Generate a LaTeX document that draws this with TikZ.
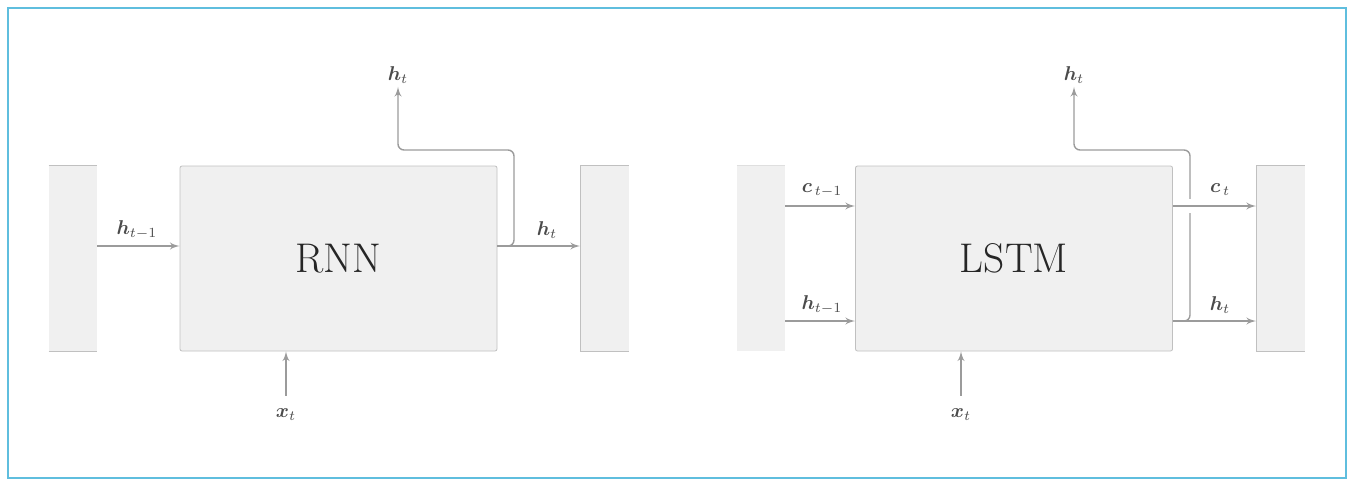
\documentclass[tikz,border=0pt]{standalone}
\usepackage{amsmath}
\usepackage{amssymb}
\usepackage{bm}
\usepackage{tikz}
\usetikzlibrary{arrows, shapes}

\definecolor{cellfill}{RGB}{240,240,240}
\definecolor{celledge}{RGB}{192,192,192}
\definecolor{wiregray}{RGB}{155,155,155}
\definecolor{labelgray}{RGB}{75,75,75}
\definecolor{framecyan}{RGB}{95,190,222}

\begin{document}
\begin{tikzpicture}[x=0.5pt, y=-0.5pt]
			\tikzset{
				cell/.style = {draw=celledge, fill=cellfill, rounded corners=1pt,
					minimum width=158.5pt, minimum height=92.5pt, inner sep=0pt,
					font=\huge, text=black!85},
				stub/.style = {fill=cellfill, minimum width=24pt, minimum height=92.5pt, inner sep=0pt},
				edge/.style = {draw=celledge, line width=0.6pt},
				wire/.style = {draw=wiregray, line width=0.7pt, ->, >=latex'},
				lbl/.style = {font=\normalsize, text=labelgray, inner sep=1.5pt}
			}
			% frame
			\useasboundingbox (0,0) rectangle (1352,487);
			\path[draw=framecyan, line width=1pt] (8,8) rectangle (1346,478);

			% ---- RNN ----
			\node[stub] (rnnin) at (73,258.5) {};
			\node[stub] (rnnout) at (604.5,258.5) {};
			\node[cell] (rnn) at (338.5,258.5) {RNN};
			\path[edge] (rnnin.north west) -- (rnnin.north east);
			\path[edge] (rnnin.south west) -- (rnnin.south east);
			\path[edge] (rnnout.north east) -- (rnnout.north west) --
				(rnnout.south west) -- (rnnout.south east);

			\node[lbl] (rnnhprev) at (137,230) {$\bm{h}_{t-1}$};
			\node[lbl] (rnnhnext) at (547,230) {$\bm{h}_t$};
			\node[lbl] (rnnhup) at (398,75) {$\bm{h}_t$};
			\node[lbl] (rnnx) at (286,415) {$\bm{x}_t$};

			\path[wire] ([yshift=6.25pt]rnnin.east) -- ([yshift=6.25pt]rnn.west);
			\path[wire] ([yshift=6.25pt]rnn.east) -- ([yshift=6.25pt]rnnout.west);
			\path[wire, rounded corners=3pt] ([yshift=6.25pt]rnn.east) -| (514,150) -| (rnnhup.south);
			\path[wire] ([yshift=5pt]rnnx.north) -- (rnnx.north |- rnn.south);

			% ---- LSTM ----
			\node[stub] (lstmin) at (761,258.5) {};
			\node[stub] (lstmout) at (1280.5,258.5) {};
			\node[cell] (lstm) at (1014,258.5) {LSTM};
			\path[draw=celledge!50, line width=0.6pt] (lstmin.north west) -- (lstmin.north east);
			\path[edge] (lstmout.north east) -- (lstmout.north west) --
				(lstmout.south west) -- (lstmout.south east);

			\node[lbl] (lstmcprev) at (822,190) {$\bm{c}_{\,t-1}$};
			\node[lbl] (lstmhprev) at (822,305) {$\bm{h}_{t-1}$};
			\node[lbl] (lstmcnext) at (1220,190) {$\bm{c}_{\,t}$};
			\node[lbl] (lstmhnext) at (1220,305) {$\bm{h}_t$};
			\node[lbl] (lstmhup) at (1074,75) {$\bm{h}_t$};
			\node[lbl] (lstmx) at (961,415) {$\bm{x}_t$};

			\path[wire] ([yshift=26.25pt]lstmin.east) -- ([yshift=26.25pt]lstm.west);
			\path[wire] ([yshift=-31.25pt]lstmin.east) -- ([yshift=-31.25pt]lstm.west);
			\path[wire] ([yshift=-31.25pt]lstm.east) -- ([yshift=-31.25pt]lstmout.west);
			\path[wire, rounded corners=3pt] ([yshift=-31.25pt]lstm.east) -| (1190,150) -| (lstmhup.south);
			\path[wire, preaction={draw=white, line width=7pt, -, shorten <=2pt, shorten >=3pt}]
				([yshift=26.25pt]lstm.east) -- ([yshift=26.25pt]lstmout.west);
			\path[wire] ([yshift=5pt]lstmx.north) -- (lstmx.north |- lstm.south);
		\end{tikzpicture}
\end{document}
